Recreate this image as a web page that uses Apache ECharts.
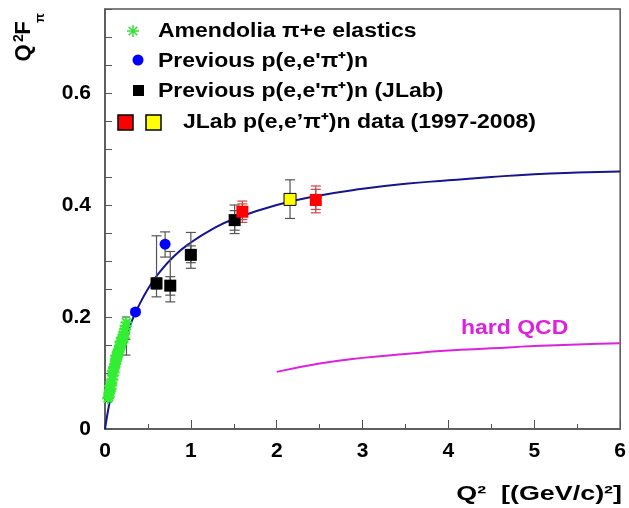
<!DOCTYPE html>
<html>
<head>
<meta charset="utf-8">
<script src="https://cdn.jsdelivr.net/npm/echarts@6/dist/echarts.min.js"></script>
<style>
  html, body { margin: 0; padding: 0; background: #fff; }
  #chart { width: 629px; height: 508px; }
</style>
</head>
<body>
<div id="chart"></div>
<script>
// 曲线 (monopole 拟合) 读图取值
var curveX = [0, 0.02, 0.05, 0.1, 0.2, 0.3, 0.4, 0.5, 0.6, 0.8, 1.0, 1.25, 1.5, 2.0, 2.5, 3.0, 3.5, 4.0, 4.5, 5.0, 5.5, 6.0];
var curveY = [0, 0.019, 0.045, 0.083, 0.143, 0.188, 0.222, 0.250, 0.273, 0.308, 0.333, 0.357, 0.375, 0.400, 0.417, 0.429, 0.438, 0.444, 0.450, 0.455, 0.458, 0.460];

// hard QCD
var qcdX = [2.0, 2.5, 3.0, 3.5, 4.0, 4.5, 5.0, 5.5, 6.0];
var qcdY = [0.102, 0.117, 0.127, 0.134, 0.140, 0.144, 0.148, 0.151, 0.153];

// Amendolia pi+e elastics
var greenX = [0.035, 0.045, 0.05, 0.055, 0.065, 0.07, 0.075, 0.085, 0.09, 0.1, 0.105, 0.11, 0.12, 0.125, 0.13, 0.14, 0.145, 0.155, 0.16, 0.17, 0.175, 0.185, 0.19, 0.2, 0.21, 0.215, 0.225, 0.235, 0.24, 0.25, 0.06, 0.09, 0.13, 0.18, 0.22];
var greenY = [0.055, 0.058, 0.064, 0.068, 0.072, 0.078, 0.083, 0.088, 0.096, 0.101, 0.108, 0.111, 0.116, 0.121, 0.125, 0.129, 0.133, 0.137, 0.141, 0.144, 0.148, 0.151, 0.156, 0.158, 0.164, 0.168, 0.173, 0.178, 0.184, 0.19, 0.077, 0.104, 0.131, 0.156, 0.162];
var greenErrX = [0.245, 0.25];
var greenErrLo = [0.170, 0.132];
var greenErrHi = [0.200, 0.160];

// Previous p(e,e'pi+)n
var blueX = [0.355, 0.70];
var blueY = [0.209, 0.330];
var blueLo = [0.204, 0.307];
var blueHi = [0.214, 0.352];

// Previous p(e,e'pi+)n (JLab)
var blackX = [0.60, 0.76, 1.00, 1.51];
var blackY = [0.260, 0.256, 0.311, 0.373];
var blackLo = [0.236, 0.227, 0.287, 0.349];
var blackHi = [0.345, 0.317, 0.351, 0.400];
var blackStatLo = [0.250, 0.239, 0.297, 0.355];
var blackStatHi = [0.270, 0.272, 0.327, 0.390];

// JLab data (1997-2008)
var redX = [1.60, 2.455];
var redY = [0.388, 0.409];
var redLo = [0.369, 0.386];
var redHi = [0.407, 0.434];
var redStatLo = [0.374, 0.392];
var redStatHi = [0.402, 0.428];
var yellowX = [2.155];
var yellowY = [0.410];
var yellowLo = [0.376];
var yellowHi = [0.445];

var FONT = "'Liberation Sans', Arial, Helvetica, sans-serif";

function pairs(xs, ys) {
  return xs.map(function (x, i) { return [x, ys[i]]; });
}
function triples(xs, lo, hi) {
  return xs.map(function (x, i) { return [x, lo[i], hi[i]]; });
}
// 误差棒
function errBars(name, data, color, cap) {
  return {
    name: name,
    type: 'custom',
    data: data,
    z: 3,
    renderItem: function (params, api) {
      var x = api.value(0);
      var p1 = api.coord([x, api.value(1)]);
      var p2 = api.coord([x, api.value(2)]);
      var st = { stroke: color, lineWidth: 1.2 };
      return {
        type: 'group',
        children: [
          { type: 'line', shape: { x1: p1[0], y1: p1[1], x2: p2[0], y2: p2[1] }, style: st },
          { type: 'line', shape: { x1: p1[0] - cap, y1: p1[1], x2: p1[0] + cap, y2: p1[1] }, style: st },
          { type: 'line', shape: { x1: p2[0] - cap, y1: p2[1], x2: p2[0] + cap, y2: p2[1] }, style: st }
        ]
      };
    }
  };
}

var STAR = 'path://M0,-1L0,1M-1,0L1,0M-0.72,-0.72L0.72,0.72M-0.72,0.72L0.72,-0.72';

function legendText(x, y, text) {
  return {
    type: 'text', x: x, y: y, scaleX: 1.15,
    style: { text: text, font: 'bold 20px ' + FONT, fill: '#000', textAlign: 'left', textVerticalAlign: 'middle' }
  };
}
// 图例里的星号
function legendStar(cx, cy, r) {
  var d = r * 0.72;
  var st = { stroke: '#33dd33', lineWidth: 1.5 };
  return {
    type: 'group', x: cx, y: cy,
    children: [
      { type: 'line', shape: { x1: 0, y1: -r, x2: 0, y2: r }, style: st },
      { type: 'line', shape: { x1: -r, y1: 0, x2: r, y2: 0 }, style: st },
      { type: 'line', shape: { x1: -d, y1: -d, x2: d, y2: d }, style: st },
      { type: 'line', shape: { x1: -d, y1: d, x2: d, y2: -d }, style: st }
    ]
  };
}
function rotText(x, y, text, size) {
  return { type: 'text', x: x, y: y, rotation: Math.PI / 2,
    style: { text: text, font: 'bold ' + size + 'px ' + FONT, fill: '#000', textAlign: 'center', textVerticalAlign: 'middle' } };
}

var option = {
  animation: false,
  backgroundColor: '#fff',
  grid: { left: 105, right: 6, top: 9, bottom: 79, show: true, borderColor: '#555', borderWidth: 1.5 },
  xAxis: {
    type: 'value', min: 0, max: 6, interval: 1,
    axisLine: { show: true, lineStyle: { color: '#555', width: 1.5 } },
    axisTick: { show: true, inside: true, length: 9, lineStyle: { color: '#555' } },
    minorTick: { show: true, splitNumber: 2, length: 5, lineStyle: { color: '#555' } },
    splitLine: { show: false },
    axisLabel: { color: '#000', fontFamily: FONT, fontWeight: 'bold', fontSize: 21, margin: 12 }
  },
  yAxis: {
    type: 'value', min: 0, max: 0.75, interval: 0.05,
    axisLine: { show: true, lineStyle: { color: '#555', width: 1.5 } },
    axisTick: { show: true, inside: true, length: 7, lineStyle: { color: '#555' } },
    splitLine: { show: false },
    axisLabel: {
      color: '#000', fontFamily: FONT, fontWeight: 'bold', fontSize: 21, margin: 14,
      formatter: function (v) {
        var k = v / 0.2;
        return Math.abs(k - Math.round(k)) < 1e-6 ? String(Math.round(k) * 2 / 10) : '';
      }
    }
  },
  graphic: [
    // y 轴标题 Q^2 F_pi
    rotText(24, 53, 'Q', 22),
    rotText(19, 38, '2', 14),
    rotText(24, 28, 'F', 22),
    rotText(40, 18, 'π', 13),
    // x 轴标题
    { type: 'text', x: 622, y: 494, scaleX: 1.28,
      style: { text: 'Q²  [(GeV/c)²]', font: 'bold 21px ' + FONT, fill: '#000', textAlign: 'right', textVerticalAlign: 'middle' } },
    // hard QCD
    { type: 'text', x: 461, y: 328, scaleX: 1.15,
      style: { text: 'hard QCD', font: 'bold 20px ' + FONT, fill: '#dd22dd', textAlign: 'left', textVerticalAlign: 'middle' } },
    // 图例
    legendStar(133, 31, 6),
    { type: 'circle', shape: { cx: 138, cy: 60, r: 5.5 }, style: { fill: '#0000ff' } },
    { type: 'rect', shape: { x: 133, y: 85, width: 11, height: 11 }, style: { fill: '#000' } },
    { type: 'rect', shape: { x: 118, y: 115, width: 15, height: 15 }, style: { fill: '#ff0000', stroke: '#000', lineWidth: 1.5 } },
    { type: 'rect', shape: { x: 146, y: 115, width: 15, height: 15 }, style: { fill: '#ffff00', stroke: '#000', lineWidth: 1.5 } },
    legendText(158, 31, 'Amendolia π+e elastics'),
    legendText(158, 61, "Previous p(e,e'π⁺)n"),
    legendText(158, 91, "Previous p(e,e'π⁺)n (JLab)"),
    legendText(183, 122, 'JLab p(e,e’π⁺)n data (1997-2008)')
  ],
  series: [
    { name: 'fit', type: 'line', data: pairs(curveX, curveY), smooth: true, symbol: 'none',
      lineStyle: { color: '#15158f', width: 2 }, z: 2 },
    { name: 'hard QCD', type: 'line', data: pairs(qcdX, qcdY), smooth: true, symbol: 'none',
      lineStyle: { color: '#dd22dd', width: 2 }, z: 2 },
    { name: 'Amendolia', type: 'scatter', data: pairs(greenX, greenY), symbol: STAR, symbolSize: 12,
      itemStyle: { color: 'rgba(0,0,0,0)', borderColor: '#33ee33', borderWidth: 2, opacity: 1 }, z: 4 },
    errBars('green err', triples(greenErrX, greenErrLo, greenErrHi), '#555', 4),
    errBars('blue err', triples(blueX, blueLo, blueHi), '#555', 5),
    { name: 'Previous', type: 'scatter', data: pairs(blueX, blueY), symbol: 'circle', symbolSize: 11,
      itemStyle: { color: '#0000ff', opacity: 1 }, z: 5 },
    errBars('black err', triples(blackX, blackLo, blackHi), '#555', 5),
    errBars('black stat', triples(blackX, blackStatLo, blackStatHi), '#555', 5),
    { name: 'Previous JLab', type: 'scatter', data: pairs(blackX, blackY), symbol: 'rect', symbolSize: 12,
      itemStyle: { color: '#000', opacity: 1 }, z: 5 },
    errBars('red err', triples(redX, redLo, redHi), '#cc4444', 5),
    errBars('red stat', triples(redX, redStatLo, redStatHi), '#cc4444', 5),
    { name: 'JLab red', type: 'scatter', data: pairs(redX, redY), symbol: 'rect', symbolSize: 12,
      itemStyle: { color: '#ff0000', opacity: 1 }, z: 5 },
    errBars('yellow err', triples(yellowX, yellowLo, yellowHi), '#555', 5),
    { name: 'JLab yellow', type: 'scatter', data: pairs(yellowX, yellowY), symbol: 'rect', symbolSize: 12,
      itemStyle: { color: '#ffff00', borderColor: '#000', borderWidth: 1, opacity: 1 }, z: 5 }
  ]
};

var chart = echarts.init(document.getElementById('chart'));
chart.setOption(option);
</script>
</body>
</html>
